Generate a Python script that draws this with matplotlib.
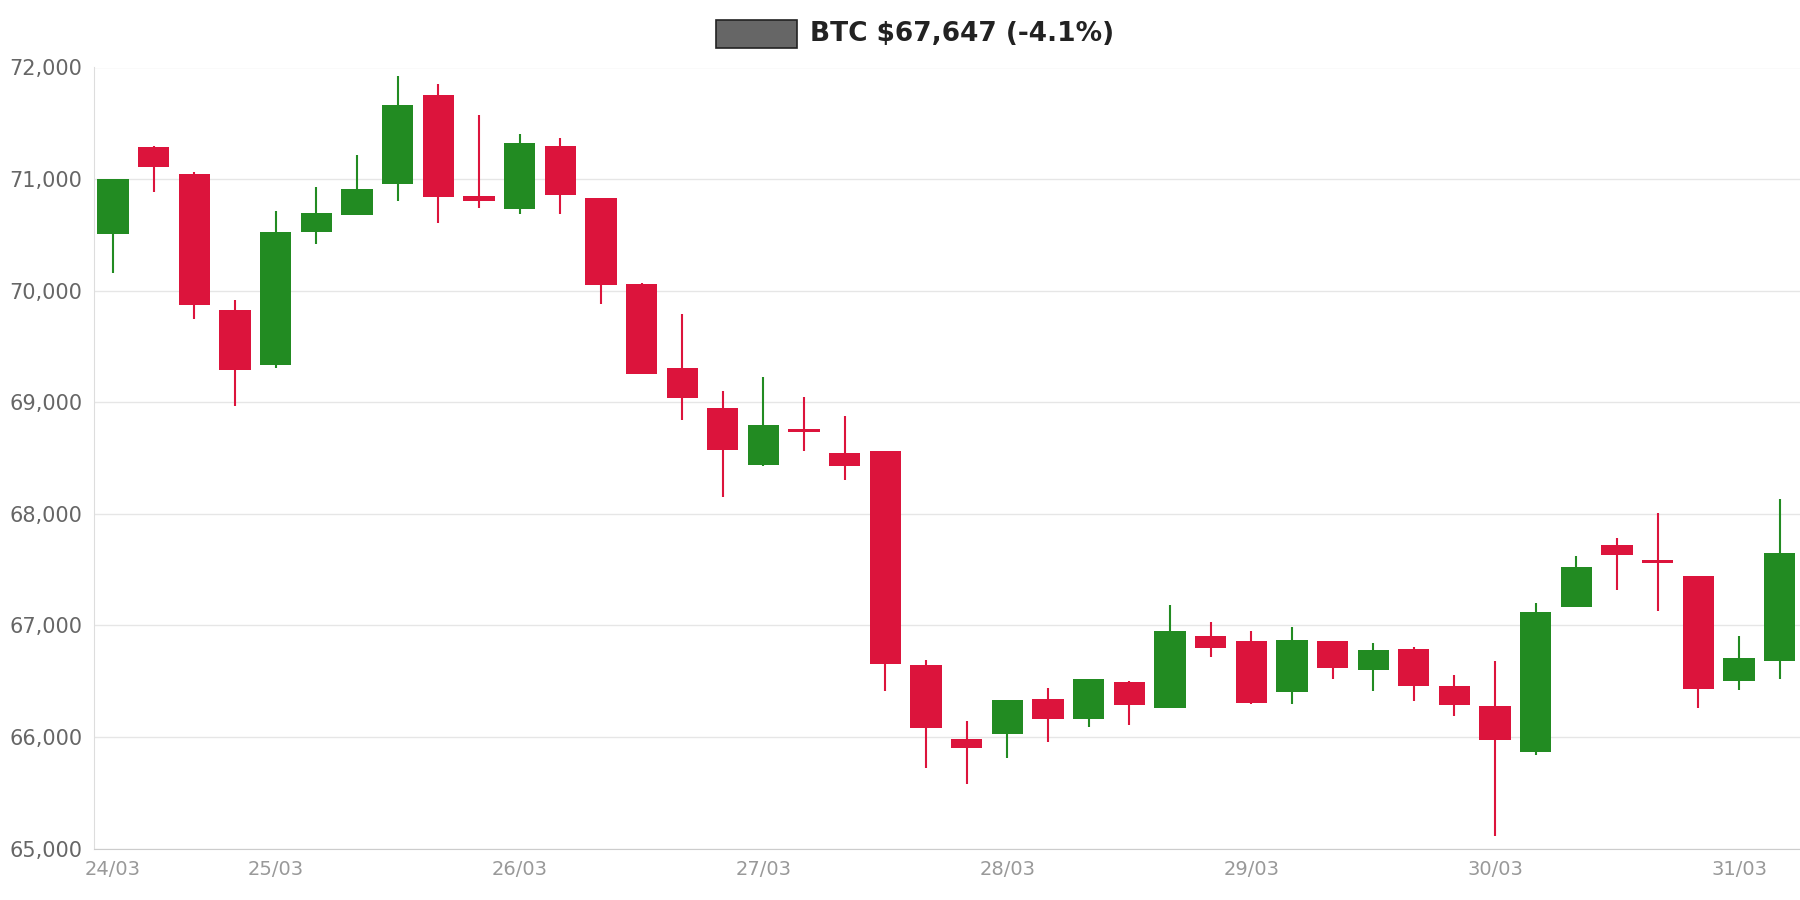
import matplotlib
matplotlib.use('Agg')
import matplotlib.pyplot as plt
import numpy as np

# 4h candles
opens = [70505, 71290, 71050, 69830, 69330, 70530, 70680, 70960, 71750, 70850,
         70730, 71300, 70830, 70060, 69310, 68950, 68440, 68760, 68550, 68560,
         66650, 65980, 66030, 66340, 66160, 66490, 66260, 66910, 66860, 66400,
         66860, 66600, 66790, 66460, 66280, 65870, 67170, 67720, 67590, 67440,
         66500, 66680]
closes = [71000, 71105, 69870, 69290, 70530, 70700, 70910, 71660, 70840, 70800,
          71320, 70860, 70050, 69250, 69040, 68570, 68800, 68730, 68430, 66655,
          66080, 65900, 66330, 66160, 66520, 66290, 66950, 66800, 66310, 66870,
          66620, 66780, 66460, 66290, 65970, 67120, 67520, 67630, 67560, 66430,
          66710, 67650]
highs = [71000, 71300, 71060, 69920, 70710, 70930, 71220, 71920, 71850, 71570,
         71400, 71370, 70830, 70070, 69790, 69100, 69230, 69050, 68880, 68560,
         66690, 66140, 66330, 66440, 66520, 66500, 67180, 67030, 66950, 66990,
         66860, 66840, 66810, 66560, 66680, 67200, 67620, 67780, 68010, 67440,
         66910, 68130]
lows = [70160, 70880, 69745, 68970, 69310, 70420, 70680, 70800, 70610, 70740,
        70690, 70690, 69880, 69250, 68840, 68150, 68430, 68560, 68300, 66410,
        65720, 65580, 65810, 65960, 66090, 66110, 66260, 66720, 66300, 66300,
        66520, 66410, 66320, 66190, 65110, 65840, 67170, 67320, 67130, 66260,
        66420, 66520]
tick_idx = [0, 4, 10, 16, 22, 28, 34, 40]
tick_labels = ["24/03", "25/03", "26/03", "27/03", "28/03", "29/03", "30/03", "31/03"]

fig = plt.figure(figsize=(18, 9), dpi=100)
ax = fig.add_axes([0.052, 0.057, 0.948, 0.868])

up_c, down_c = '#228b22', '#dc143c'
x = np.arange(len(opens))
for i in x:
    o, c, h, l = opens[i], closes[i], highs[i], lows[i]
    col = up_c if c >= o else down_c
    ax.vlines(i, l, h, color=col, linewidth=1.5, zorder=2)
    ax.bar(i, max(abs(c - o), 30), bottom=min(o, c), width=0.77, color=col, zorder=3)

ax.set_xlim(-0.48, len(opens) - 0.5)
ax.set_ylim(65000, 72000)
ax.set_yticks(range(65000, 72001, 1000))
ax.set_yticklabels([f"{v:,}" for v in range(65000, 72001, 1000)], fontsize=15, color='#666666')
ax.set_xticks(tick_idx)
ax.set_xticklabels(tick_labels, fontsize=14, color='#999999')
ax.tick_params(length=0, pad=8)
ax.grid(axis='y', color='#e6e6e6', linewidth=1, zorder=0)
for s in ['top', 'right']:
    ax.spines[s].set_visible(False)
ax.spines['left'].set_color('#dddddd')
ax.spines['bottom'].set_color('#cccccc')

fig.patches.append(plt.Rectangle((0.398, 0.947), 0.045, 0.031, transform=fig.transFigure,
                                 facecolor='#666666', edgecolor='#222222', linewidth=1.2))
fig.text(0.45, 0.962, "BTC $67,647 (-4.1%)", fontsize=19, fontweight='bold',
         color='#222222', va='center', ha='left')

fig.savefig('out.png')
